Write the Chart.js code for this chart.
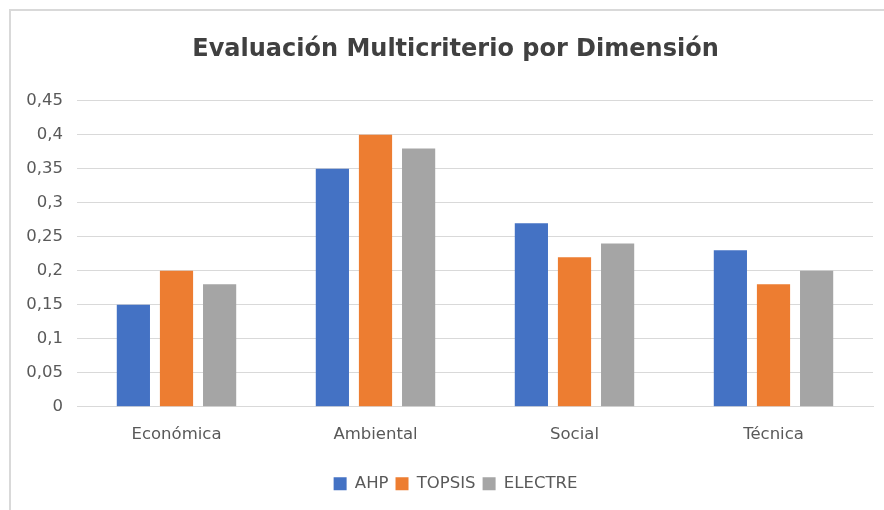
<!DOCTYPE html>
<html>
<head>
<meta charset="utf-8">
<script src="https://cdn.jsdelivr.net/npm/chart.js@4"></script>
<style>
  html, body { margin: 0; padding: 0; background: #fff; overflow: hidden; width: 884px; height: 510px; }
  #wrap { position: absolute; left: 9px; top: 0; width: 893px; height: 510px; }
  .line { position: absolute; background: #d9d9d9; }
  #topLine { left: 9px; top: 9px; width: 875px; height: 2px; }
  #leftLine { left: 9px; top: 9px; width: 2px; height: 501px; }
</style>
</head>
<body>
<div class="line" id="topLine"></div>
<div class="line" id="leftLine"></div>
<div id="wrap"><canvas id="myChart" width="893" height="510"></canvas></div>
<script>
const categories = ['Económica', 'Ambiental', 'Social', 'Técnica'];
const seriesNames = ['AHP', 'TOPSIS', 'ELECTRE'];
const ahp = [0.15, 0.35, 0.27, 0.23];
const topsis = [0.20, 0.40, 0.22, 0.18];
const electre = [0.18, 0.38, 0.24, 0.20];
const colors = ['#4472C4', '#ED7D31', '#A5A5A5'];

// center title and legend on the whole canvas, not the padded area
const fullWidthBlocks = {
    id: 'fullWidthBlocks',
    afterLayout: function(chart) {
        [chart.titleBlock, chart.legend].forEach(function(box) {
            if (box) { box.left = 0; box.right = chart.width; }
        });
    }
};

document.addEventListener('DOMContentLoaded', function() {
    const fontFamily = '"DejaVu Sans", sans-serif';
    const data = {
        labels: categories,
        datasets: [ahp, topsis, electre].map(function(values, i) {
            return {
                label: seriesNames[i],
                data: values,
                backgroundColor: colors[i],
                borderWidth: 0,
                categoryPercentage: 0.65,
                barPercentage: 0.77
            };
        })
    };

    const config = {
        type: 'bar',
        data: data,
        plugins: [fullWidthBlocks],
        options: {
            responsive: false,
            animation: false,
            layout: { padding: { left: 0, right: 29, top: 0, bottom: 8 } },
            scales: {
                x: {
                    grid: { display: false, drawTicks: false },
                    border: { color: '#d9d9d9', width: 1 },
                    ticks: { color: '#595959', padding: 18, font: { family: fontFamily, size: 16.5 } },
                    afterFit: function(scale) { scale.height += 6; }
                },
                y: {
                    min: 0,
                    max: 0.45,
                    afterFit: function(scale) { scale.width = 68; },
                    grid: { color: '#d9d9d9', drawTicks: false },
                    border: { display: false },
                    ticks: {
                        stepSize: 0.05,
                        padding: 14,
                        color: '#595959',
                        font: { family: fontFamily, size: 16.5 },
                        callback: function(v) { return String(Math.round(v * 100) / 100).replace('.', ','); }
                    }
                }
            },
            plugins: {
                title: {
                    display: true,
                    text: 'Evaluación Multicriterio por Dimensión',
                    color: '#404040',
                    font: { family: fontFamily, size: 24, weight: 'bold', lineHeight: 1.2 },
                    padding: { top: 35, bottom: 37 }
                },
                legend: {
                    position: 'bottom',
                    labels: {
                        color: '#595959',
                        boxWidth: 13,
                        boxHeight: 13,
                        padding: 7,
                        font: { family: fontFamily, size: 16.5 }
                    }
                },
                tooltip: { enabled: false }
            }
        }
    };

    const ctx = document.getElementById('myChart').getContext('2d');
    new Chart(ctx, config);
});
</script>
</body>
</html>
